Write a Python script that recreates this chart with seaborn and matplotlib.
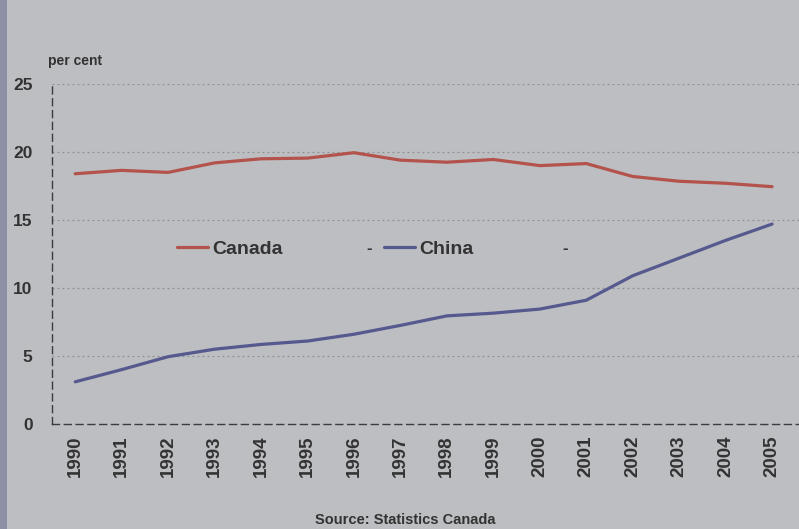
import matplotlib
matplotlib.use("Agg")
import matplotlib.pyplot as plt
import seaborn as sns
import pandas as pd
from matplotlib.lines import Line2D
from matplotlib.patches import Rectangle

years = list(range(1990, 2006))
canada = [18.4, 18.65, 18.5, 19.2, 19.5, 19.55, 19.95, 19.4, 19.25, 19.45, 19.0, 19.15, 18.2, 17.85, 17.7, 17.45]
china = [3.1, 4.0, 4.95, 5.5, 5.85, 6.1, 6.6, 7.25, 7.95, 8.15, 8.45, 9.1, 10.9, 12.2, 13.5, 14.7]
series_names = ["Canada", "China"]
series_colors = ["#b3534c", "#56598e"]
yticks = [0, 5, 10, 15, 20, 25]

df = pd.DataFrame({
    "year": years * 2,
    "value": canada + china,
    "series": [series_names[0]] * len(years) + [series_names[1]] * len(years),
})

sns.set_theme(style="white")
plt.rcParams["font.family"] = ["Liberation Sans", "DejaVu Sans"]

BG = "#bdbec2"
TXT = "#333333"
fig = plt.figure(figsize=(7.99, 5.29), dpi=100, facecolor=BG)
ax = fig.add_axes([52 / 799, 105 / 529, 1 - 52 / 799, (424 - 84) / 529])
ax.set_facecolor(BG)

sns.lineplot(data=df, x="year", y="value", hue="series", palette=series_colors,
             hue_order=series_names, linewidth=2.3, ax=ax, legend=False)

ax.set_xlim(1989.5, 2005.58)
ax.set_ylim(0, 25)
ax.set_yticks(yticks)
ax.set_yticklabels([str(v) for v in yticks], fontsize=12.5, fontweight="bold", color=TXT)
ax.set_xticks(years)
ax.set_xticklabels([str(y) for y in years], rotation=90, fontsize=13.5,
                   fontweight="bold", color=TXT)
ax.tick_params(axis="both", length=0)
ax.tick_params(axis="y", pad=14)
ax.tick_params(axis="x", pad=8)
ax.set_xlabel("")
ax.set_ylabel("")

for v in yticks[1:]:
    ax.axhline(v, color="#8f8f92", linewidth=0.9, linestyle=(0, (1.5, 2.5)), zorder=0)

for s in ["top", "right"]:
    ax.spines[s].set_visible(False)
for s in ["left", "bottom"]:
    ax.spines[s].set_color("#3c3c3c")
    ax.spines[s].set_linewidth(1.0)
    ax.spines[s].set_linestyle((0, (5, 3.5)))

handles = [Line2D([], [], color=c, linewidth=2.3) for c in series_colors]
leg = ax.legend(handles, series_names, loc="center left",
                bbox_to_anchor=(177 / 799, 1 - 249 / 529), bbox_transform=fig.transFigure,
                ncol=2, frameon=False, borderpad=0, borderaxespad=0,
                handlelength=1.6, handletextpad=0.22, columnspacing=5.2,
                prop={"size": 14, "weight": "bold"})
for t in leg.get_texts():
    t.set_color(TXT)

fig.text(369 / 799, 1 - 249 / 529, "-", fontsize=12, fontweight="bold", color=TXT,
         ha="center", va="center")
fig.text(565 / 799, 1 - 249 / 529, "-", fontsize=12, fontweight="bold", color=TXT,
         ha="center", va="center")

fig.text(48 / 799, 1 - 61 / 529, "per cent", fontsize=10, fontweight="bold",
         color=TXT, ha="left", va="center")
fig.text(405 / 799, 1 - 520 / 529, "Source: Statistics Canada", fontsize=10.5,
         fontweight="bold", color=TXT, ha="center", va="center")

fig.patches.append(Rectangle((0, 0), 7 / 799, 1, transform=fig.transFigure,
                             facecolor="#8b90a5", edgecolor="none", zorder=0))

fig.savefig("out.png", dpi=100, facecolor=BG)
